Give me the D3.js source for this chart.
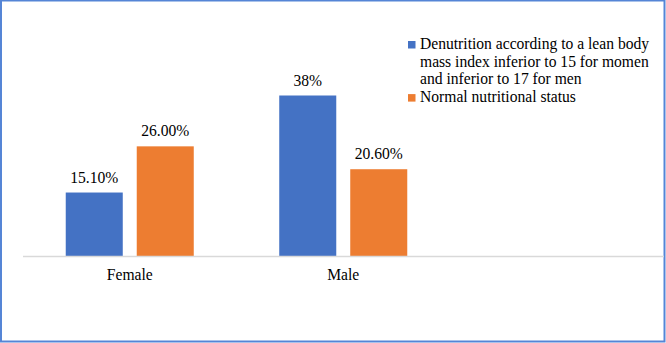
<!DOCTYPE html>
<html><head><meta charset="utf-8">
<script src="https://cdn.jsdelivr.net/npm/d3@7"></script>
<style>html,body{margin:0;padding:0;background:#fff;}svg{display:block;}</style>
</head><body>
<svg id="c" width="666" height="343"></svg>
<script>
const categories = ["Female", "Male"];
const seriesNames = ["Denutrition according to a lean body mass index inferior to 15 for momen and inferior to 17 for men", "Normal nutritional status"];
const legendLines = [["Denutrition according to a lean body", "mass index inferior to 15 for momen", "and inferior to 17 for men"], ["Normal nutritional status"]];
const denutrition = [15.1, 38];
const normal = [26.0, 20.6];
const valueLabels = [["15.10%", "38%"], ["26.00%", "20.60%"]];
const colors = ["#4472C4", "#ED7D31"];

const svg = d3.select("#c");
const W = 666, H = 343;
const FONT = '"Liberation Serif"';
const SX = 0.975;

function label(x, y, txt, anchor) {
  svg.append("text").attr("transform", `translate(${x},${y}) scale(${SX},1)`)
    .attr("text-anchor", anchor).style("font-family", FONT).style("font-size", "16px")
    .attr("fill", "#000").text(txt);
}

// border
svg.append("rect").attr("x", 1).attr("y", 0.5).attr("width", W - 2.5).attr("height", H - 2)
  .attr("fill", "#fff").attr("stroke", "#5585D6").attr("stroke-width", 2);

const baseY = 256.5;
const x0 = d3.scaleBand().domain(categories).range([23, 450]).paddingInner(0).paddingOuter(0);
const x1 = d3.scaleBand().domain([0, 1]).range([0, x0.bandwidth()]).paddingInner(0.197).paddingOuter(0.602);
const y = d3.scaleLinear().domain([0, 38]).range([baseY, 95.5]);

const series = [denutrition, normal];
series.forEach((vals, si) => {
  categories.forEach((c, ci) => {
    const bx = x0(c) + x1(si);
    svg.append("rect").attr("x", bx).attr("y", y(vals[ci]))
      .attr("width", x1.bandwidth()).attr("height", baseY - y(vals[ci]))
      .attr("fill", colors[si]);
    label(bx + x1.bandwidth() / 2, y(vals[ci]) - 10, valueLabels[si][ci], "middle");
  });
});

// axis line
svg.append("line").attr("x1", 23).attr("x2", 664).attr("y1", baseY).attr("y2", baseY)
  .attr("stroke", "#D9D9D9").attr("stroke-width", 1.5);

// category labels
categories.forEach(c => label(x0(c) + x0.bandwidth() / 2, 280, c, "middle"));

// legend
let ly = 49;
legendLines.forEach((lines, si) => {
  svg.append("rect").attr("x", 408).attr("y", ly - 8).attr("width", 7.5).attr("height", 7.5).attr("fill", colors[si]);
  lines.forEach(l => {
    label(420, ly, l, "start");
    ly += 17.7;
  });
});
</script>
</body></html>
